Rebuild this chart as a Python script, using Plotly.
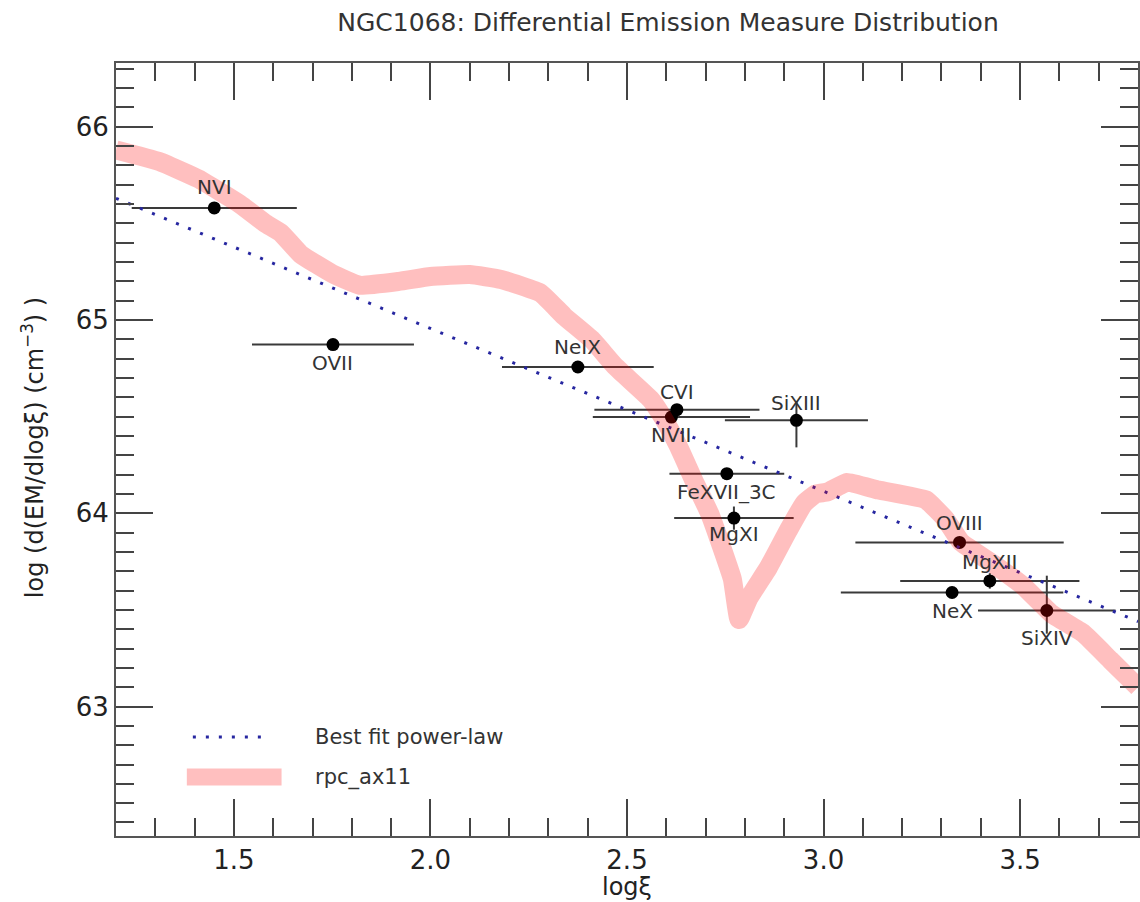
import plotly.graph_objects as go

# ---- data ----
ions = ["NVI", "OVII", "NeIX", "CVI", "NVII", "SiXIII", "FeXVII_3C", "MgXI",
        "OVIII", "MgXII", "NeX", "SiXIV"]
log_xi = [1.450, 1.752, 2.375, 2.627, 2.613, 2.931, 2.754, 2.772,
          3.346, 3.423, 3.327, 3.568]
log_dem = [65.580, 64.873, 64.757, 64.536, 64.498, 64.481, 64.205, 63.975,
           63.849, 63.650, 63.590, 63.497]
xi_err = [0.210, 0.206, 0.193, 0.210, 0.200, 0.182, 0.146, 0.152,
          0.265, 0.228, 0.283, 0.175]
dem_err_plus = [0, 0, 0, 0, 0, 0.10, 0, 0.06, 0, 0.04, 0, 0.18]
dem_err_minus = [0, 0, 0, 0, 0, 0.14, 0, 0.06, 0, 0.04, 0, 0.12]

fit_x = [1.2, 3.8]
fit_y = [65.63, 63.44]

rpc_x = [1.20, 1.31, 1.41, 1.515, 1.58, 1.62, 1.67, 1.75, 1.82, 1.92, 2.00,
         2.10, 2.18, 2.28, 2.34, 2.41, 2.47, 2.56, 2.59, 2.63, 2.67, 2.71,
         2.74, 2.768, 2.785, 2.81, 2.86, 2.91, 2.95, 2.98, 3.01, 3.06, 3.14,
         3.26, 3.31, 3.35, 3.43, 3.51, 3.58, 3.66, 3.73, 3.80]
rpc_y = [65.88, 65.82, 65.73, 65.60, 65.50, 65.45, 65.34, 65.24, 65.18, 65.20,
         65.225, 65.235, 65.21, 65.14, 65.02, 64.90, 64.76, 64.59, 64.50, 64.35,
         64.17, 64.00, 63.83, 63.66, 63.45, 63.56, 63.72, 63.91, 64.05, 64.10,
         64.11, 64.16, 64.12, 64.07, 63.97, 63.85, 63.74, 63.62, 63.48, 63.38,
         63.24, 63.10]

# label offsets (pixels, + above / - below)
label_dy = [21, -18, 20, 18, -18, 17, -18, -16, 19, 19, -18, -28]

FONT = "DejaVu Sans"
AX = "#444444"
FIT_COLOR = "#2626a0"

fig = go.Figure()

fig.add_trace(go.Scatter(
    x=log_xi, y=log_dem, mode="markers",
    marker=dict(color="black", size=13),
    error_x=dict(type="data", array=xi_err, color="#3a3a3a", thickness=2, width=0),
    error_y=dict(type="data", array=dem_err_plus, arrayminus=dem_err_minus,
                 color="#3a3a3a", thickness=2, width=0),
    showlegend=False, hoverinfo="skip"))

fig.add_trace(go.Scatter(
    x=fit_x, y=fit_y, mode="lines",
    line=dict(color=FIT_COLOR, width=3, dash="3px,10px"),
    showlegend=False))

fig.add_trace(go.Scatter(
    x=rpc_x, y=rpc_y, mode="lines",
    line=dict(color="rgba(255,0,0,0.25)", width=19, shape="spline", smoothing=0.35),
    showlegend=False))

annotations = []
for name, xv, yv, dy in zip(ions, log_xi, log_dem, label_dy):
    annotations.append(dict(x=xv, y=yv, text=name, showarrow=False, yshift=dy,
                            font=dict(family=FONT, size=20, color="#333333")))

# axis titles
annotations.append(dict(xref="paper", yref="paper", x=0.5, y=-0.066,
                        text="logξ", showarrow=False, yanchor="middle",
                        font=dict(family=FONT, size=24, color="#222222")))
annotations.append(dict(xref="paper", yref="paper", x=-0.081, y=0.502,
                        text="log (d(EM/dlogξ) (cm<sup>−3</sup>) )", textangle=-90,
                        showarrow=False, xanchor="center", yanchor="middle",
                        font=dict(family=FONT, size=24, color="#222222")))

# legend (drawn manually)
annotations.append(dict(xref="paper", yref="paper", x=0.1924, y=0.128,
                        text="Best fit power-law", showarrow=False,
                        xanchor="left", yanchor="middle",
                        font=dict(family=FONT, size=21, color="#333333")))
annotations.append(dict(xref="paper", yref="paper", x=0.1924, y=0.0763,
                        text="rpc_ax11", showarrow=False,
                        xanchor="left", yanchor="middle",
                        font=dict(family=FONT, size=21, color="#333333")))

shapes = [
    dict(type="line", xref="paper", yref="paper", x0=0.0752, x1=0.1484,
         y0=0.128, y1=0.128, line=dict(color=FIT_COLOR, width=3, dash="3px,10px")),
    dict(type="line", xref="paper", yref="paper", x0=0.0693, x1=0.162,
         y0=0.0763, y1=0.0763, line=dict(color="rgba(255,0,0,0.25)", width=17)),
]

axis_common = dict(
    ticks="inside", ticklen=37, tickwidth=2, tickcolor=AX,
    showline=True, linecolor="#555555", linewidth=2, mirror="allticks",
    showgrid=False, zeroline=False,
    tickfont=dict(family=FONT, size=26, color="#222222"),
)

fig.update_layout(
    width=1140, height=902,
    margin=dict(l=116, r=0, t=63, b=66),
    paper_bgcolor="white", plot_bgcolor="white",
    title=dict(text="NGC1068: Differential Emission Measure Distribution",
               x=0.586, xanchor="center", y=1 - 22 / 902, yanchor="middle",
               font=dict(family=FONT, size=25, color="#333333")),
    xaxis=dict(range=[1.2, 3.8], tick0=0, dtick=0.5, tickformat=".1f",
               minor=dict(dtick=0.1, tick0=0, ticks="inside", ticklen=18,
                          tickwidth=2, tickcolor=AX),
               **axis_common),
    yaxis=dict(range=[62.33, 66.33], tick0=0, dtick=1,
               minor=dict(dtick=0.1, tick0=0, ticks="inside", ticklen=18,
                          tickwidth=2, tickcolor=AX),
               **axis_common),
    annotations=annotations,
    shapes=shapes,
    showlegend=False,
)

fig.write_html("out.html")
